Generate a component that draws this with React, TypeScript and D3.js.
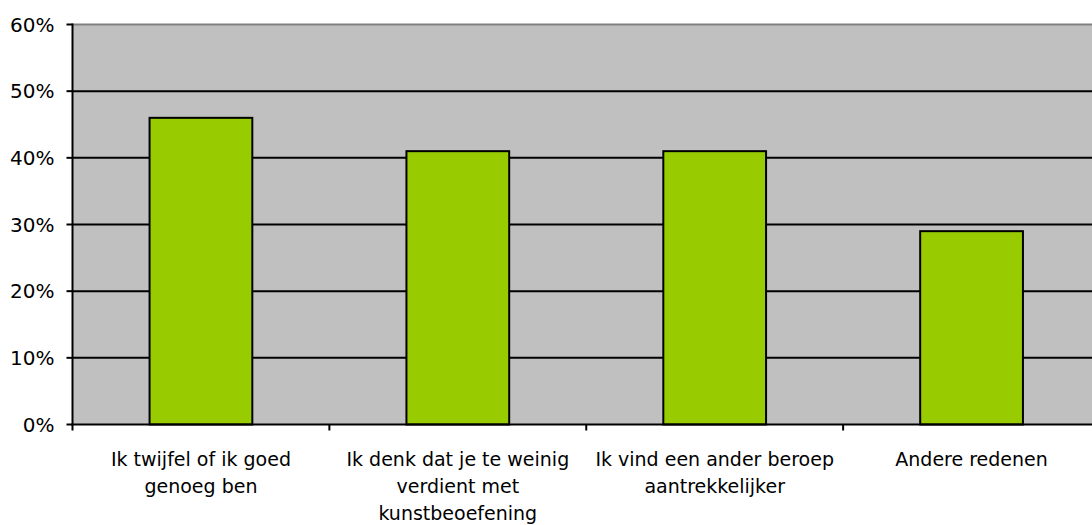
import React from "react";
import * as d3 from "d3";

const categories = [
  "Ik twijfel of ik goed\ngenoeg ben",
  "Ik denk dat je te weinig\nverdient met\nkunstbeoefening",
  "Ik vind een ander beroep\naantrekkelijker",
  "Andere redenen",
];
const values = [0.46, 0.41, 0.41, 0.29];
const yTicks = [0, 0.1, 0.2, 0.3, 0.4, 0.5, 0.6];

const W = 1092;
const H = 525;
const left = 72.5;
const right = 1100;
const top = 24.5;
const bottom = 424.5;
const FONT = "'DejaVu Sans', sans-serif";

export default function App() {
  const x = d3
    .scaleBand<string>()
    .domain(categories)
    .range([left, right])
    .paddingInner(0.6)
    .paddingOuter(0.3);
  const band = d3.scaleBand<string>().domain(categories).range([left, right]);
  const y = d3.scaleLinear().domain([0, 0.6]).range([bottom, top]);
  const fmt = d3.format(".0%");

  return (
    <svg
      width={W}
      height={H}
      style={{ position: "absolute", left: 0, top: 0, background: "#fff" }}
    >
      <rect x={left} y={top} width={right - left} height={bottom - top} fill="#C0C0C0" />
      <line x1={left} x2={right} y1={top} y2={top} stroke="#808080" strokeWidth={2} />
      {yTicks.slice(1, -1).map((t) => (
        <line key={t} x1={left} x2={right} y1={y(t)} y2={y(t)} stroke="#000" strokeWidth={2} />
      ))}
      {categories.map((c, i) => (
        <rect
          key={c}
          x={x(c)}
          y={y(values[i])}
          width={x.bandwidth()}
          height={y(0) - y(values[i])}
          fill="#99CC00"
          stroke="#000"
          strokeWidth={2}
        />
      ))}
      {/* axes */}
      <line x1={left} x2={left} y1={top - 1} y2={bottom + 1} stroke="#000" strokeWidth={2} />
      <line x1={left - 1} x2={right} y1={bottom} y2={bottom} stroke="#000" strokeWidth={2} />
      {yTicks.map((t) => (
        <g key={t}>
          <line x1={left - 6} x2={left} y1={y(t)} y2={y(t)} stroke="#000" strokeWidth={2} />
          <text
            x={left - 18}
            y={y(t)}
            dy="0.36em"
            textAnchor="end"
            fontFamily={FONT}
            fontSize={20}
            fill="#000"
          >
            {fmt(t)}
          </text>
        </g>
      ))}
      {categories.map((c) => (
        <line
          key={"t" + c}
          x1={band(c)!}
          x2={band(c)!}
          y1={bottom}
          y2={bottom + 6}
          stroke="#000"
          strokeWidth={2}
        />
      ))}
      {categories.map((c) => (
        <text
          key={"l" + c}
          x={band(c)! + band.bandwidth() / 2}
          y={bottom + 41}
          textAnchor="middle"
          fontFamily={FONT}
          fontSize={19}
          fill="#000"
        >
          {c.split("\n").map((line, j) => (
            <tspan key={j} x={band(c)! + band.bandwidth() / 2} dy={j === 0 ? 0 : 27}>
              {line}
            </tspan>
          ))}
        </text>
      ))}
    </svg>
  );
}
